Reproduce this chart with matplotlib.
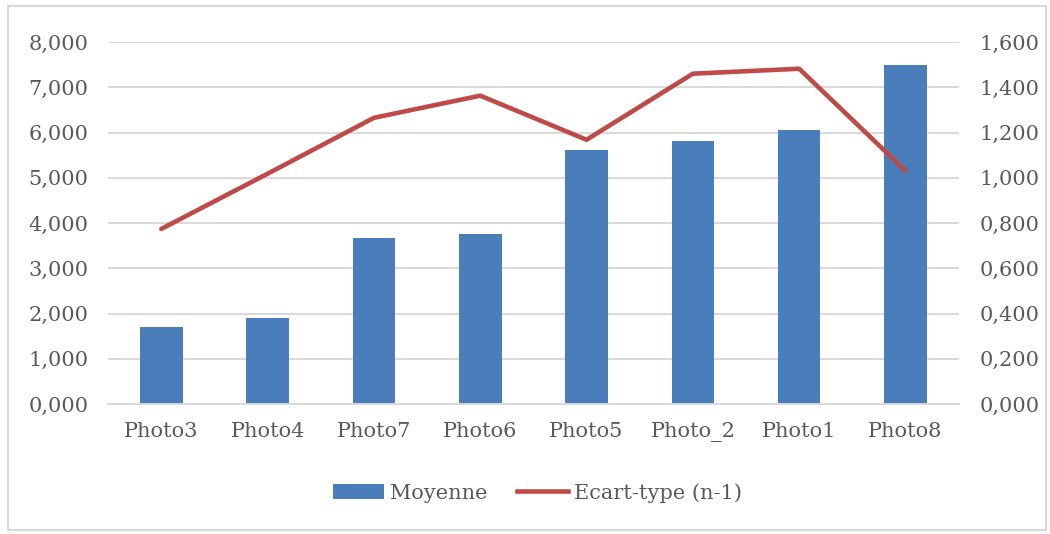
import matplotlib.pyplot as plt
from matplotlib.patches import Rectangle, Patch
from matplotlib.lines import Line2D
from matplotlib.ticker import FuncFormatter, MultipleLocator

# values
photos = ['Photo3', 'Photo4', 'Photo7', 'Photo6', 'Photo5', 'Photo_2', 'Photo1', 'Photo8']
moyenne = [1.70, 1.90, 3.67, 3.76, 5.61, 5.81, 6.06, 7.49]
ecart_type = [0.774, 1.018, 1.265, 1.363, 1.168, 1.460, 1.482, 1.031]

bar_color = '#4a7ebb'
line_color = '#be4b48'
text_color = '#595959'
grid_color = '#d9d9d9'

plt.rc('font', family='DejaVu Serif', size=15)


def comma_fmt(v, pos):
    return ('%.3f' % v).replace('.', ',')


fig = plt.figure(figsize=(10.5, 5.34), dpi=100)
ax = fig.add_axes([0.103, 0.2434, 0.810, 0.6779])
x = range(len(photos))

ax.bar(x, moyenne, width=0.4, color=bar_color, zorder=2)
ax.set_xlim(-0.5, len(photos) - 0.5)
ax.set_ylim(0, 8)
ax.yaxis.set_major_locator(MultipleLocator(1))
ax.yaxis.set_major_formatter(FuncFormatter(comma_fmt))
ax.set_xticks(list(x))
ax.set_xticklabels(photos)
ax.grid(axis='y', color=grid_color, linewidth=1.4, zorder=0)
ax.set_axisbelow(True)
for s in ['top', 'left', 'right']:
    ax.spines[s].set_visible(False)
ax.spines['bottom'].set_color(grid_color)
ax.spines['bottom'].set_linewidth(1.4)
ax.tick_params(axis='y', length=0, pad=14, colors=text_color)
ax.tick_params(axis='x', length=0, pad=13, colors=text_color)

ax2 = ax.twinx()
ax2.plot(x, ecart_type, color=line_color, linewidth=3.3, solid_capstyle='round', zorder=3)
ax2.set_ylim(0, 1.6)
ax2.yaxis.set_major_locator(MultipleLocator(0.2))
ax2.yaxis.set_major_formatter(FuncFormatter(comma_fmt))
ax2.tick_params(axis='y', length=0, pad=15, colors=text_color)
for s in ax2.spines.values():
    s.set_visible(False)

handles = [Patch(facecolor=bar_color, edgecolor='none'),
           Line2D([], [], color=line_color, linewidth=3.3)]
leg = fig.legend(handles, ['Moyenne', 'Ecart-type (n-1)'], loc='center',
                 bbox_to_anchor=(0.512, 0.077), ncol=2, frameon=False,
                 handlelength=2.45, handletextpad=0.3, columnspacing=1.4)
for t in leg.get_texts():
    t.set_color(text_color)

# light outer chart frame
fig.patches.append(Rectangle((8 / 1050, 4 / 534), 1038 / 1050, 524 / 534,
                             transform=fig.transFigure, fill=False,
                             edgecolor=grid_color, linewidth=1.5))

fig.savefig('out.png', dpi=100)
